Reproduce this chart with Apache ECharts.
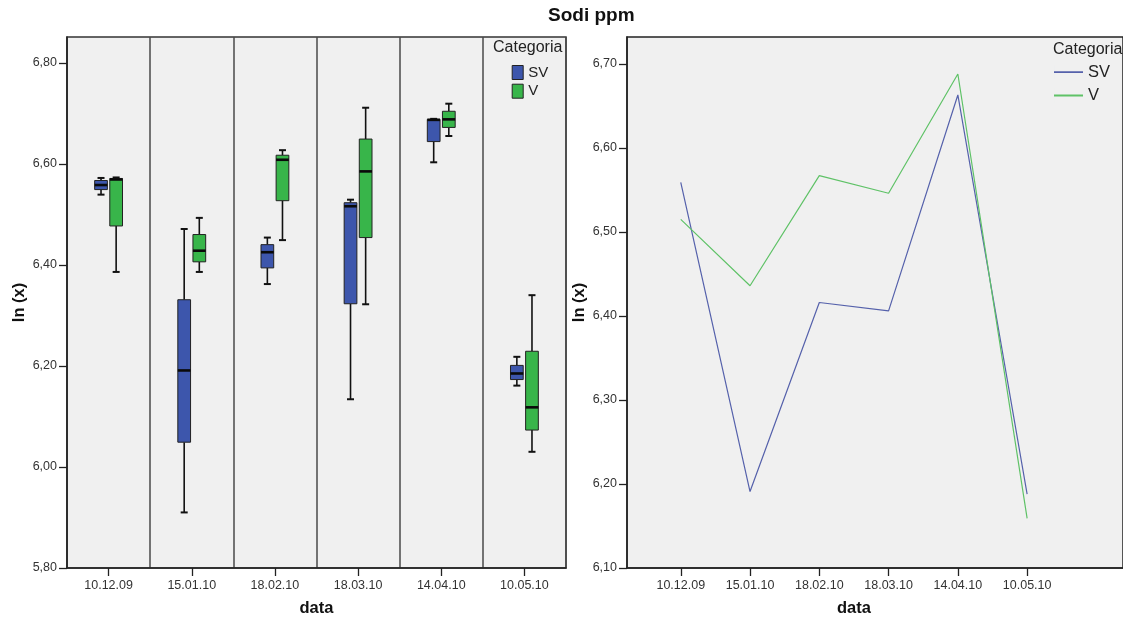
<!DOCTYPE html>
<html>
<head>
<meta charset="utf-8">
<script src="https://cdn.jsdelivr.net/npm/echarts@6/dist/echarts.min.js"></script>
<style>
html,body{margin:0;padding:0;background:#fff;}
#chart{width:1123px;height:622px;}
</style>
</head>
<body>
<div id="chart"></div>
<script>
// ---- data ----
const categories = ['10.12.09', '15.01.10', '18.02.10', '18.03.10', '14.04.10', '10.05.10'];
const seriesNames = ['SV', 'V'];

// box plot statistics (ln(x)), per date
const svMin    = [6.539, 5.910, 6.362, 6.134, 6.603, 6.161];
const svQ1     = [6.549, 6.049, 6.394, 6.323, 6.644, 6.173];
const svMedian = [6.558, 6.191, 6.425, 6.516, 6.687, 6.185];
const svQ3     = [6.567, 6.331, 6.440, 6.523, 6.688, 6.201];
const svMax    = [6.572, 6.471, 6.454, 6.529, 6.689, 6.218];

const vMin     = [6.386, 6.386, 6.449, 6.322, 6.655, 6.030];
const vQ1      = [6.477, 6.406, 6.527, 6.454, 6.672, 6.073];
const vMedian  = [6.569, 6.428, 6.608, 6.585, 6.688, 6.118];
const vQ3      = [6.571, 6.460, 6.617, 6.649, 6.704, 6.229];
const vMax     = [6.573, 6.493, 6.627, 6.711, 6.719, 6.340];

// line chart values
const svLine = [6.559, 6.191, 6.416, 6.406, 6.663, 6.188];
const vLine  = [6.515, 6.436, 6.567, 6.546, 6.688, 6.159];

// tick values
const leftTicks  = [5.8, 6.0, 6.2, 6.4, 6.6, 6.8];
const rightTicks = [6.1, 6.2, 6.3, 6.4, 6.5, 6.6, 6.7];

// ---- build ----
const boxColors = ['#3d56ac', '#38b54a'];
const lineColors = ['#5561ab', '#5fc267'];
const fmt = v => v.toFixed(2).replace('.', ',');
const font = 'Liberation Sans, Arial, sans-serif';
const lineIcon = 'path://M0,6.1 H29 V7.9 H0 Z M0,0 H0.01 V14 H0 Z';

function boxData(mn, q1, md, q3, mx) {
  return categories.map((c, i) => [i, mn[i], q1[i], md[i], q3[i], mx[i]]);
}

function makeRender(sign, color) {
  return function (params, api) {
    const x = api.value(0);
    const band = api.size([1, 0])[0];
    const w = band * 0.153;
    const c0 = api.coord([x, api.value(3)]);
    const cx = c0[0] + sign * (w / 2 + 1.2);
    const yMin = api.coord([x, api.value(1)])[1];
    const yQ1 = api.coord([x, api.value(2)])[1];
    const yMed = c0[1];
    const yQ3 = api.coord([x, api.value(4)])[1];
    const yMax = api.coord([x, api.value(5)])[1];
    const cap = 3.5;
    const stroke = { stroke: '#111', lineWidth: 1.6 };
    return {
      type: 'group',
      children: [
        { type: 'line', shape: { x1: cx, y1: yMax, x2: cx, y2: yQ3 }, style: stroke },
        { type: 'line', shape: { x1: cx, y1: yQ1, x2: cx, y2: yMin }, style: stroke },
        { type: 'line', shape: { x1: cx - cap, y1: yMax, x2: cx + cap, y2: yMax }, style: { stroke: '#111', lineWidth: 2 } },
        { type: 'line', shape: { x1: cx - cap, y1: yMin, x2: cx + cap, y2: yMin }, style: { stroke: '#111', lineWidth: 2 } },
        { type: 'rect', shape: { x: cx - w / 2, y: yQ3, width: w, height: Math.max(yQ1 - yQ3, 1) },
          style: { fill: color, stroke: '#222', lineWidth: 1 } },
        { type: 'line', shape: { x1: cx - w / 2, y1: yMed, x2: cx + w / 2, y2: yMed }, style: { stroke: '#0a0a0a', lineWidth: 2.6 } }
      ]
    };
  };
}

const chart = echarts.init(document.getElementById('chart'), null, { renderer: 'canvas' });

const option = {
  backgroundColor: '#ffffff',
  animation: false,
  title: [
    { text: 'Sodi ppm', left: 548, top: 6, padding: 0,
      textStyle: { fontFamily: font, fontSize: 19, fontWeight: 'bold', color: '#111' } },
    { text: 'Categoria', left: 493, top: 40, padding: 0,
      textStyle: { fontFamily: font, fontSize: 16, fontWeight: 'normal', color: '#222' } },
    { text: 'Categoria', left: 1053, top: 42, padding: 0,
      textStyle: { fontFamily: font, fontSize: 16, fontWeight: 'normal', color: '#222' } }
  ],
  legend: [
    {
      left: 511.7, top: 65, orient: 'vertical', itemWidth: 11, itemHeight: 14, itemGap: 3.7,
      padding: 0, icon: 'rect', selectedMode: false,
      data: [
        { name: 'SV ', itemStyle: { color: boxColors[0], borderColor: '#222', borderWidth: 1 } },
        { name: 'V ', itemStyle: { color: boxColors[1], borderColor: '#222', borderWidth: 1 } }
      ],
      formatter: n => n.trim(),
      textStyle: { fontFamily: font, fontSize: 15, color: '#222', lineHeight: 14 }
    },
    {
      left: 1054, top: 63.7, orient: 'vertical', itemWidth: 29, itemHeight: 14, itemGap: 6.3,
      padding: 0, selectedMode: false,
      data: [
        { name: 'SV', icon: lineIcon, itemStyle: { color: lineColors[0] } },
        { name: 'V', icon: lineIcon, itemStyle: { color: lineColors[1] } }
      ],
      textStyle: { fontFamily: font, fontSize: 16.5, color: '#222', lineHeight: 14 }
    }
  ],
  grid: [
    { left: 67, top: 37, width: 499, height: 533, show: true, backgroundColor: '#f0f0f0',
      borderColor: '#333', borderWidth: 1.5 },
    { left: 627, top: 37, width: 498, height: 533, show: true, backgroundColor: '#f0f0f0',
      borderColor: '#222', borderWidth: 1.5 }
  ],
  xAxis: [
    {
      gridIndex: 0, type: 'category', data: categories, boundaryGap: true,
      name: 'data', nameLocation: 'middle', nameGap: 32,
      nameTextStyle: { fontFamily: font, fontSize: 16.5, fontWeight: 'bold', color: '#111' },
      axisLine: { show: true, lineStyle: { color: '#222', width: 1.5 } },
      axisTick: { show: true, alignWithLabel: true, length: 8, lineStyle: { color: '#222', width: 1.3 } },
      axisLabel: { margin: 11, fontFamily: font, fontSize: 12.5, color: '#333' },
      splitLine: { show: true, lineStyle: { color: '#4a4a4a', width: 1.5 } }
    },
    {
      gridIndex: 1, type: 'value', min: -0.776, max: 6.384,
      name: 'data', nameLocation: 'middle', nameGap: 32,
      nameTextStyle: { fontFamily: font, fontSize: 16.5, fontWeight: 'bold', color: '#111', padding: [0, 42, 0, 0] },
      axisLine: { show: true, onZero: false, lineStyle: { color: '#222', width: 1.5 } },
      axisTick: { show: true, length: 8, customValues: [0, 1, 2, 3, 4, 5], lineStyle: { color: '#222', width: 1.3 } },
      axisLabel: { margin: 11, fontFamily: font, fontSize: 12.5, color: '#333',
        customValues: [0, 1, 2, 3, 4, 5], formatter: v => categories[Math.round(v)] },
      splitLine: { show: false }
    }
  ],
  yAxis: [
    {
      gridIndex: 0, type: 'value', min: 5.8, max: 6.851, interval: 0.2,
      name: 'ln (x)', nameLocation: 'middle', nameGap: 39, nameRotate: 90,
      nameTextStyle: { fontFamily: font, fontSize: 16.5, fontWeight: 'bold', color: '#111' },
      axisLine: { show: true, lineStyle: { color: '#222', width: 1.5 } },
      axisTick: { show: true, length: 8, customValues: leftTicks, lineStyle: { color: '#222', width: 1.3 } },
      axisLabel: { margin: 10, fontFamily: font, fontSize: 12.5, color: '#333',
        customValues: leftTicks, formatter: fmt },
      splitLine: { show: false }
    },
    {
      gridIndex: 1, type: 'value', min: 6.1, max: 6.732, interval: 0.1,
      name: 'ln (x)', nameLocation: 'middle', nameGap: 39, nameRotate: 90,
      nameTextStyle: { fontFamily: font, fontSize: 16.5, fontWeight: 'bold', color: '#111' },
      axisLine: { show: true, onZero: false, lineStyle: { color: '#222', width: 1.5 } },
      axisTick: { show: true, length: 8, customValues: rightTicks, lineStyle: { color: '#222', width: 1.3 } },
      axisLabel: { margin: 10, fontFamily: font, fontSize: 12.5, color: '#333',
        customValues: rightTicks, formatter: fmt },
      splitLine: { show: false }
    }
  ],
  series: [
    {
      name: 'SV ', type: 'custom', xAxisIndex: 0, yAxisIndex: 0,
      renderItem: makeRender(-1, boxColors[0]),
      itemStyle: { color: boxColors[0] },
      encode: { x: 0, y: [1, 2, 3, 4, 5] },
      data: boxData(svMin, svQ1, svMedian, svQ3, svMax)
    },
    {
      name: 'V ', type: 'custom', xAxisIndex: 0, yAxisIndex: 0,
      renderItem: makeRender(1, boxColors[1]),
      itemStyle: { color: boxColors[1] },
      encode: { x: 0, y: [1, 2, 3, 4, 5] },
      data: boxData(vMin, vQ1, vMedian, vQ3, vMax)
    },
    {
      name: 'SV', type: 'line', xAxisIndex: 1, yAxisIndex: 1, symbol: 'none',
      lineStyle: { color: lineColors[0], width: 1.2 }, itemStyle: { color: lineColors[0] },
      data: svLine.map((v, i) => [i, v])
    },
    {
      name: 'V', type: 'line', xAxisIndex: 1, yAxisIndex: 1, symbol: 'none',
      lineStyle: { color: lineColors[1], width: 1.2 }, itemStyle: { color: lineColors[1] },
      data: vLine.map((v, i) => [i, v])
    }
  ]
};
chart.setOption(option);
</script>
</body>
</html>
